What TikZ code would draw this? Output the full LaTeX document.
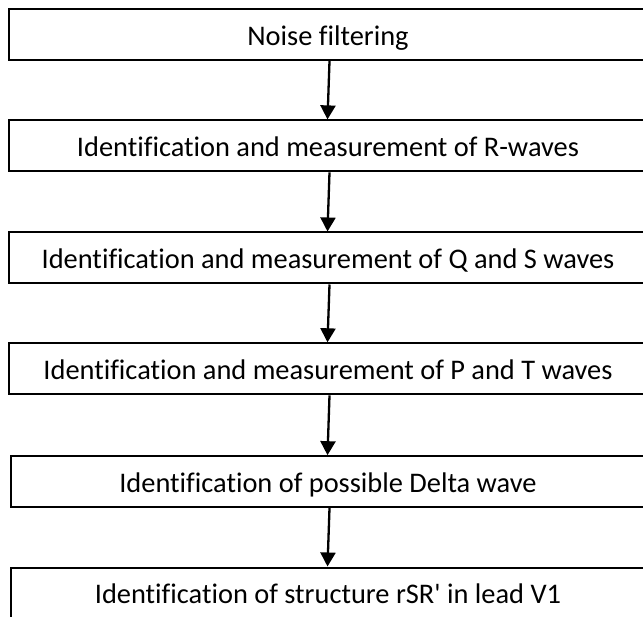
\documentclass[tikz,border=0pt]{standalone}
\usepackage{fontspec}
\newfontfamily\boxfont{Carlito}[Ligatures=NoCommon]
\usetikzlibrary{arrows.meta}
\tikzset{
  stepbox/.style={draw=black, line width=2pt, rectangle, inner sep=0pt,
    minimum height=51pt, text height=21pt, text depth=0pt,
    font=\boxfont\fontsize{28.4}{34}\selectfont, anchor=center},
  widebox/.style={stepbox, minimum width=639pt},
  narrowbox/.style={stepbox, minimum width=634pt},
  flow/.style={line width=2.3pt, -{Triangle[length=14pt,width=15pt]}}
}
\begin{document}
\begin{tikzpicture}[x=1pt,y=1pt]
\useasboundingbox (0,0) rectangle (643,-617);
\clip (0,0) rectangle (643,-617);
\node[widebox] (n1) at (328,-34.7) {Noise filtering};
\node[widebox] (n2) at (328,-145.9) {Identification and measurement of R-waves};
\node[widebox] (n3) at (328,-258) {Identification and measurement of Q and S waves};
\node[widebox] (n4) at (328,-368.8) {Identification and measurement of P and T waves};
\node[narrowbox] (n5) at (328,-481.7) {Identification of possible Delta wave};
\node[narrowbox] (n6) at (328,-593) {Identification of structure rSR' in lead V1};
\draw[flow] ([xshift=1.5pt]n1.south) -- ([xshift=-0.5pt]n2.north);
\draw[flow] ([xshift=1.5pt]n2.south) -- ([xshift=-0.5pt]n3.north);
\draw[flow] ([xshift=1.5pt]n3.south) -- ([xshift=-0.5pt]n4.north);
\draw[flow] ([xshift=1.5pt]n4.south) -- ([xshift=-0.5pt]n5.north);
\draw[flow] ([xshift=1.5pt]n5.south) -- ([xshift=-0.5pt]n6.north);
\end{tikzpicture}
\end{document}
